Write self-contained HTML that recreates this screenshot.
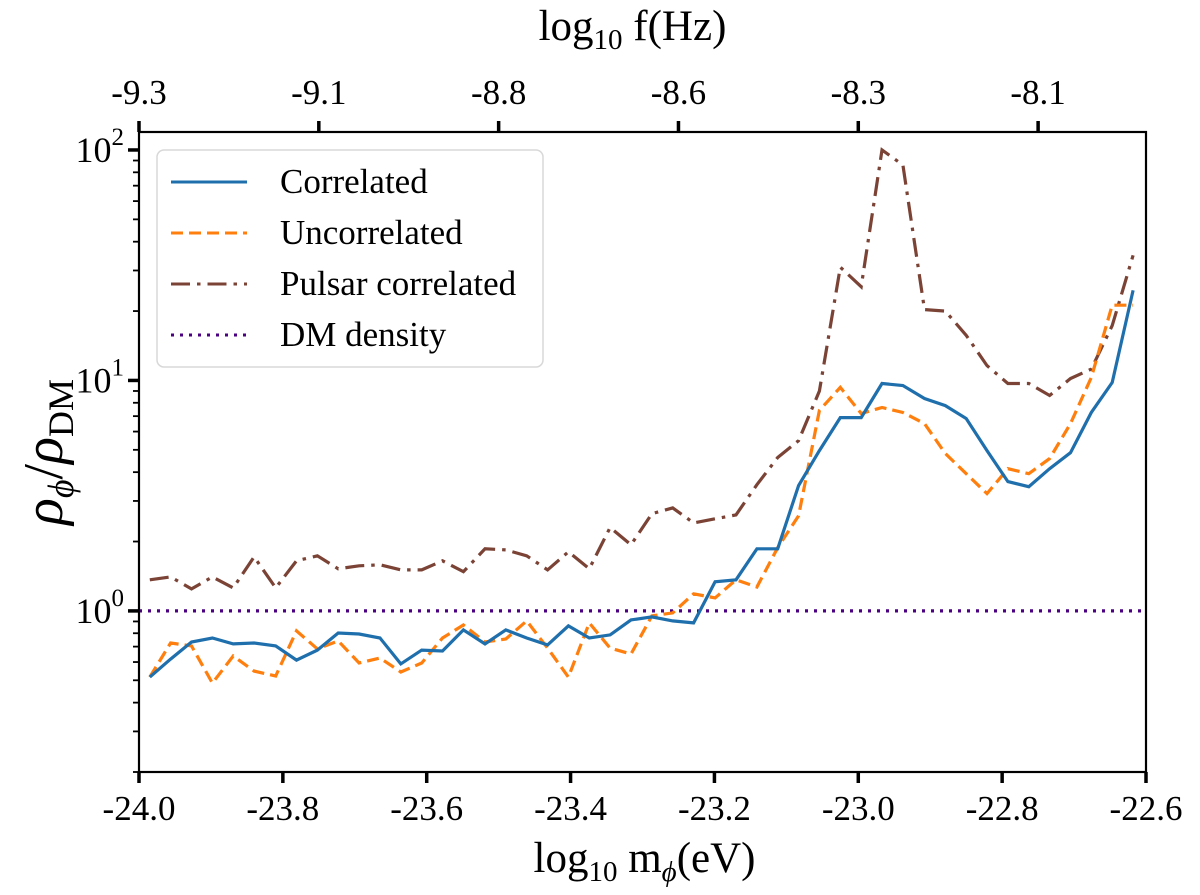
<!DOCTYPE html>
<html><head><meta charset="utf-8">
<style>
html,body{margin:0;padding:0;background:#fff;}
svg{display:block;font-family:"Liberation Serif",serif;}
</style></head>
<body>
<svg id="chart" width="1200" height="895" viewBox="0 0 1200 895" xmlns="http://www.w3.org/2000/svg"></svg>
<script>
const massValues = [-23.985,-23.956,-23.927,-23.898,-23.869,-23.840,-23.810,-23.781,-23.752,-23.723,-23.694,-23.665,-23.636,-23.607,-23.578,-23.549,-23.519,-23.490,-23.461,-23.432,-23.403,-23.374,-23.345,-23.316,-23.287,-23.258,-23.229,-23.199,-23.170,-23.141,-23.112,-23.083,-23.054,-23.025,-22.996,-22.967,-22.938,-22.908,-22.879,-22.850,-22.821,-22.792,-22.763,-22.734,-22.705,-22.676,-22.647,-22.618];
const correlated = [0.516,0.618,0.733,0.763,0.719,0.726,0.705,0.612,0.676,0.802,0.794,0.763,0.589,0.676,0.670,0.827,0.719,0.827,0.763,0.712,0.861,0.763,0.787,0.914,0.942,0.905,0.887,1.337,1.364,1.86,1.86,3.50,4.96,6.90,6.90,9.70,9.51,8.35,7.78,6.84,4.96,3.64,3.46,4.14,4.86,7.26,9.80,24.6];
const uncorrelated = [0.516,0.726,0.705,0.486,0.637,0.548,0.522,0.819,0.684,0.741,0.594,0.625,0.543,0.594,0.763,0.869,0.733,0.755,0.905,0.690,0.516,0.887,0.690,0.650,0.951,0.980,1.186,1.139,1.364,1.27,1.88,2.59,7.41,9.33,7.19,7.63,7.26,6.50,4.82,3.94,3.23,4.14,3.94,4.58,6.50,10.3,21.2,21.2];
const pulsarCorrelated = [1.364,1.405,1.246,1.405,1.259,1.717,1.259,1.65,1.735,1.523,1.57,1.585,1.507,1.507,1.65,1.479,1.86,1.84,1.735,1.507,1.805,1.523,2.30,1.936,2.64,2.80,2.41,2.51,2.61,3.53,4.63,5.48,9.0,31.0,25.5,100,86.1,20.3,20.0,15.7,11.6,9.70,9.70,8.6,10.2,11.2,17.3,34.9];
const dmDensity = [1.0, 1.0];
const xTicks = [-24.0,-23.8,-23.6,-23.4,-23.2,-23.0,-22.8,-22.6];
const xTickLabels = ["-24.0","-23.8","-23.6","-23.4","-23.2","-23.0","-22.8","-22.6"];
const topTicks = [-24.0,-23.75,-23.5,-23.25,-23.0,-22.75];
const topTickLabels = ["-9.3","-9.1","-8.8","-8.6","-8.3","-8.1"];
const yMajorTicks = [1,10,100];
const yMajorExp = ["0","1","2"];

const L=139, R=1146, T=132, B=772;
const xMin=-24.0, xMax=-22.6;
const yMin=0.2, yMax=Math.pow(10,2.078);
function xs(v){return L+(v-xMin)/(xMax-xMin)*(R-L);}
function ys(v){return B-(Math.log10(v)-Math.log10(yMin))/(Math.log10(yMax)-Math.log10(yMin))*(B-T);}

const svg=document.getElementById('chart');
const NS='http://www.w3.org/2000/svg';
function mk(tag,attrs,parent){const e=document.createElementNS(NS,tag);for(const k in attrs)e.setAttribute(k,attrs[k]);(parent||svg).appendChild(e);return e;}

const defs=mk('defs',{});
const cp=mk('clipPath',{id:'plotclip'},defs);
mk('rect',{x:L,y:T,width:R-L,height:B-T},cp);

const DASH_O='12 6', DASH_P='19 7 3.5 7', DASH_D='3 6';
function series(vals,name,color,dash,w){
  const pts=vals.map((v,i)=>xs(massValues[i]).toFixed(1)+','+ys(v).toFixed(1)).join(' ');
  const p=mk('polyline',{points:pts,fill:'none',stroke:color,'stroke-width':w,'stroke-dasharray':dash,'stroke-linejoin':'miter','clip-path':'url(#plotclip)'});
  
  
}
const dm=mk('line',{x1:xs(xMin),x2:xs(xMax),y1:ys(dmDensity[0]),y2:ys(dmDensity[1]),stroke:'#4b0082','stroke-width':3.2,'stroke-dasharray':DASH_D});


series(pulsarCorrelated,'pulsar-correlated-line','#7b4335',DASH_P,3.2);
series(uncorrelated,'uncorrelated-line','#ff7f0e',DASH_O,3.2);
series(correlated,'correlated-line','#1f6fad','',3.2);

const frame=mk('rect',{x:L,y:T,width:R-L,height:B-T,fill:'none',stroke:'#000','stroke-width':2.2});



xTicks.forEach((t,i)=>{
  const x=xs(t);
  mk('line',{x1:x,x2:x,y1:B,y2:B+11,stroke:'#000','stroke-width':3.5});
  const tx=mk('text',{x:x,y:B+48,'font-size':35,'text-anchor':'middle',fill:'#000'});
  tx.textContent=xTickLabels[i];
  
  
});
topTicks.forEach((t,i)=>{
  const x=xs(t);
  mk('line',{x1:x,x2:x,y1:T,y2:T-11,stroke:'#000','stroke-width':3.5});
  const tx=mk('text',{x:x,y:T-28,'font-size':35,'text-anchor':'middle',fill:'#000'});
  tx.textContent=topTickLabels[i];
  
  
});
yMajorTicks.forEach((t,i)=>{
  const y=ys(t);
  mk('line',{x1:L,x2:L-11,y1:y,y2:y,stroke:'#000','stroke-width':3.5});
  const tx=mk('text',{x:L-15,y:y+12,'font-size':36,'text-anchor':'end',fill:'#000'});
  tx.textContent='10';
  const sup=mk('tspan',{dy:-17,'font-size':25},tx);
  sup.textContent=yMajorExp[i];
  
  
});
[0.1,1,10].forEach(d=>{for(let k=2;k<=9;k++){const v=d*k;if(v<yMin||v>yMax)continue;const y=ys(v);mk('line',{x1:L,x2:L-6,y1:y,y2:y,stroke:'#000','stroke-width':1.8});}});

const xt=mk('text',{x:(L+R)/2+2,y:872,'font-size':43,'text-anchor':'middle',fill:'#000'});
xt.innerHTML='log<tspan font-size="29" dy="9">10</tspan><tspan dy="-9"> m</tspan><tspan font-size="29" dy="9" font-style="italic">ϕ</tspan><tspan dy="-9">(eV)</tspan>';


const tt=mk('text',{x:(L+R)/2-10,y:40,'font-size':43,'text-anchor':'middle',fill:'#000'});
tt.innerHTML='log<tspan font-size="29" dy="9">10</tspan><tspan dy="-9"> f(Hz)</tspan>';


const yt=mk('text',{x:0,y:0,'font-size':56,'text-anchor':'middle',fill:'#000',transform:'translate(62,452) rotate(-90)'});
yt.innerHTML='<tspan font-style="italic">ρ</tspan><tspan font-size="36" dy="11" font-style="italic">ϕ</tspan><tspan dy="-11">/</tspan><tspan font-style="italic">ρ</tspan><tspan font-size="36" dy="11">DM</tspan>';



const lg=mk('g',{});


mk('rect',{x:157,y:150,width:386,height:217,rx:7,fill:'#fff',stroke:'#d8d8d8','stroke-width':1.5},lg);
const entries=[['Correlated','#1f6fad',''],['Uncorrelated','#ff7f0e',DASH_O],['Pulsar correlated','#7b4335',DASH_P],['DM density','#4b0082',DASH_D]];
entries.forEach((e,i)=>{
  const y=182+i*51;
  const g=mk('g',{},lg);
  
  
  mk('line',{x1:171,x2:247,y1:y,y2:y,stroke:e[1],'stroke-width':3,'stroke-dasharray':e[2]},g);
  const t=mk('text',{x:280,y:y+11,'font-size':35,fill:'#000'},g);
  t.textContent=e[0];
});
</script>
</body></html>
